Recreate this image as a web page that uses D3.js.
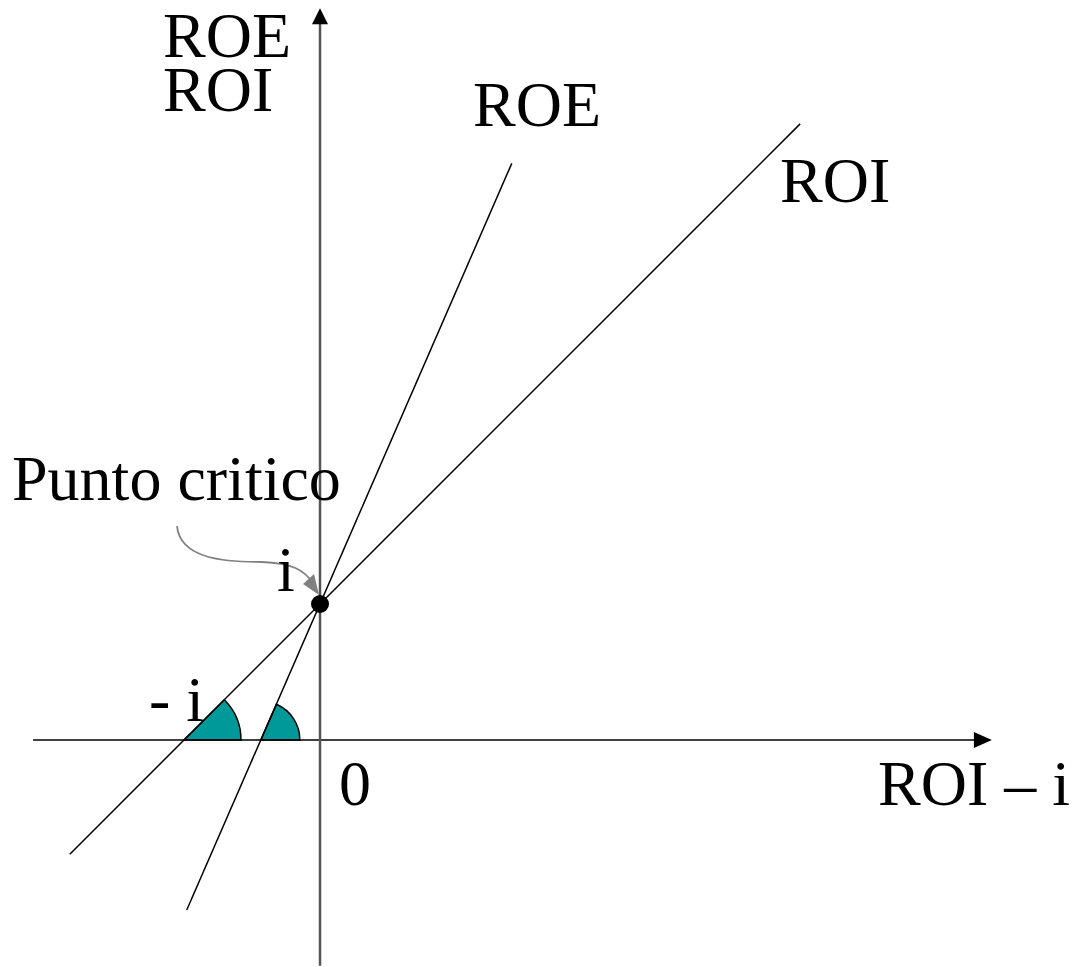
<!DOCTYPE html>
<html>
<head>
<meta charset="utf-8">
<script src="https://cdn.jsdelivr.net/npm/d3@7"></script>
<style>
  html, body { margin: 0; padding: 0; background: #fff; }
  svg { display: block; }
  text { font-family: "Liberation Serif", "Times New Roman", serif; fill: #000; }
</style>
</head>
<body>
<svg id="chart" width="1072" height="967"></svg>
<script>
// values (units of i)
const interest = 1;                       // i : critical point on y axis
const xAxisExtent = [-2.11, 4.94];        // ROI - i
const yAxisExtent = [-1.66, 5.38];        // ROE / ROI
const roiLine = [ { x: -1.84, y: -0.84 }, { x: 3.53, y: 4.53 } ];
const roeLine = [ { x: -0.98, y: -1.25 }, { x: 1.41, y: 4.24 } ];
const roiZero = -1.0;                     // ROI line crosses x axis at -i
const roeZero = -0.435;                   // ROE line crosses x axis

let svg = d3.select('#chart');
let width = 1072, height = 967;

let x = d3.scaleLinear().domain([-2.353, 5.529]).range([0, width]);
let y = d3.scaleLinear().domain([-1.669, 5.441]).range([height, 0]);

// teal angle sectors at the x-intercepts
function sector(x0, line, r) {
  let p1 = line[1];
  let ang = Math.atan2(y(0) - y(p1.y), x(p1.x) - x(x0));  // screen angle
  let cx = x(x0), cy = y(0);
  let ex = cx + r * Math.cos(ang), ey = cy - r * Math.sin(ang);
  svg.append('path')
    .attr('d', `M${cx},${cy} L${cx + r},${cy} A${r},${r} 0 0 0 ${ex},${ey} Z`)
    .attr('fill', '#009999')
    .attr('stroke', '#000')
    .attr('stroke-width', 1.5);
}
sector(roiZero, roiLine, 57);
sector(roeZero, roeLine, 39);

// axes
svg.append('line')
  .attr('x1', x(xAxisExtent[0])).attr('x2', x(xAxisExtent[1]) - 16)
  .attr('y1', y(0)).attr('y2', y(0))
  .attr('stroke', '#000').attr('stroke-width', 1.5);
svg.append('path')
  .attr('d', `M${x(xAxisExtent[1])},${y(0)} L${x(xAxisExtent[1]) - 18},${y(0) - 8} L${x(xAxisExtent[1]) - 18},${y(0) + 8} Z`)
  .attr('fill', '#000');

svg.append('line')
  .attr('x1', x(0)).attr('x2', x(0))
  .attr('y1', y(yAxisExtent[0])).attr('y2', y(yAxisExtent[1]) + 14)
  .attr('stroke', '#555').attr('stroke-width', 2.5);
svg.append('path')
  .attr('d', `M${x(0)},${y(yAxisExtent[1])} L${x(0) - 8},${y(yAxisExtent[1]) + 16} L${x(0) + 8},${y(yAxisExtent[1]) + 16} Z`)
  .attr('fill', '#000');

// ROI and ROE lines
let lineGen = d3.line().x(d => x(d.x)).y(d => y(d.y));
[roiLine, roeLine].forEach(l => {
  svg.append('path')
    .attr('d', lineGen(l))
    .attr('fill', 'none')
    .attr('stroke', '#000')
    .attr('stroke-width', 1.5);
});

// critical point
svg.append('circle')
  .attr('cx', x(0)).attr('cy', y(interest))
  .attr('r', 9)
  .attr('fill', '#000');

// curved arrow from label to the point
let tipX = x(0) - 1, tipY = y(interest) - 9;
svg.append('path')
  .attr('d', `M177,526 C180,560 228,562 262,562 C292,563 304,570 ${tipX - 6},${tipY - 12}`)
  .attr('fill', 'none')
  .attr('stroke', '#808080')
  .attr('stroke-width', 1.8);
svg.append('path')
  .attr('d', `M${tipX},${tipY} L${tipX - 16},${tipY - 11} L${tipX - 5},${tipY - 21} Z`)
  .attr('fill', '#808080');

// y axis title (two lines)
let yTitle = svg.append('text')
  .attr('x', 163).attr('y', 57)
  .attr('font-size', 64);
['ROE', 'ROI'].forEach((t, k) => {
  yTitle.append('tspan').attr('x', 163).attr('dy', k ? 54 : 0).text(t);
});

// labels
const labels = [
  { t: 'ROE', x: 473, y: 126 },
  { t: 'ROI', x: 780, y: 202 },
  { t: 'Punto critico', x: 12, y: 500 },
  { t: 'i', x: 277, y: 591 },
  { t: '- i', x: 149, y: 721 },
  { t: '0', x: 339, y: 805 },
  { t: 'ROI \u2013 i', x: 878, y: 805 }
];
svg.selectAll('text.lbl')
  .data(labels)
  .enter().append('text')
  .attr('class', 'lbl')
  .attr('x', d => d.x)
  .attr('y', d => d.y)
  .attr('font-size', 64)
  .text(d => d.t);
</script>
</body>
</html>
